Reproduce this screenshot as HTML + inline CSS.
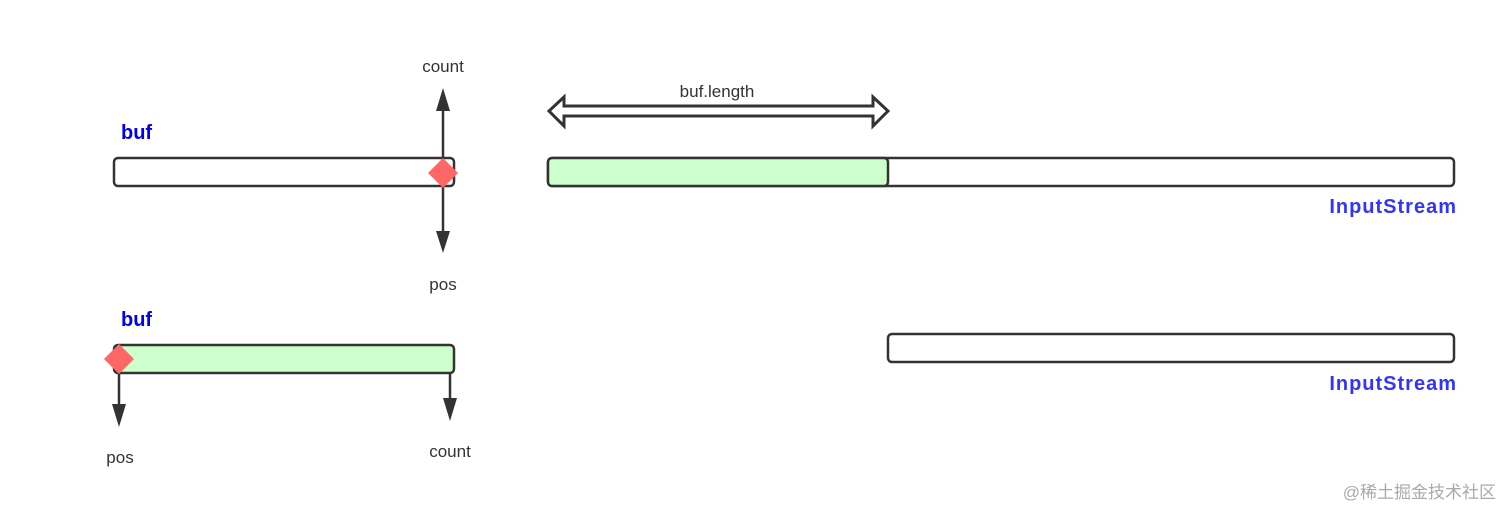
<!DOCTYPE html>
<html><head><meta charset="utf-8"><style>
html,body{margin:0;padding:0;background:#fff;}
svg{display:block;}
text{font-family:"Liberation Sans","Noto Sans CJK SC",sans-serif;}
</style></head><body>
<svg width="1512" height="518" viewBox="0 0 1512 518" xmlns="http://www.w3.org/2000/svg">
<g stroke="#333" stroke-width="2.5" fill="none">
<rect x="114" y="158" width="340" height="28" rx="4" fill="#fff"/>
<rect x="548" y="158" width="906" height="28" rx="4" fill="#fff"/>
<rect x="548" y="158" width="340" height="28" rx="4" fill="#ccffcc"/>
<rect x="114" y="345" width="340" height="28" rx="4" fill="#ccffcc"/>
<rect x="888" y="334" width="566" height="28" rx="4" fill="#fff"/>
<line x1="443" y1="108" x2="443" y2="235"/>
<line x1="119" y1="359" x2="119" y2="408"/>
<line x1="450" y1="373" x2="450" y2="402"/>
<path d="M564 106 L873 106 L873 97 L888 111 L873 126 L873 116 L564 116 L564 126 L549 111 L564 97 Z" fill="#fff" stroke-width="3"/>
</g>
<g fill="#333">
<polygon points="443,88 436,111 450,111"/>
<polygon points="443,253 436,231 450,231"/>
<polygon points="119,427 112,404 126,404"/>
<polygon points="450,421 443,398 457,398"/>
</g>
<polygon points="443,158 458,173 443,188 428,173" fill="#f66"/>
<polygon points="119,344 134,359 119,374 104,359" fill="#f66"/>
<g font-size="17" fill="#333" text-anchor="middle">
<text x="443" y="72">count</text>
<text x="443" y="290">pos</text>
<text x="717" y="97">buf.length</text>
<text x="120" y="463">pos</text>
<text x="450" y="457">count</text>
</g>
<g font-size="20" font-weight="bold" fill="#0000ee">
<text x="121" y="139">buf</text>
<text x="121" y="326">buf</text>
</g>
<g font-size="20" font-weight="bold" fill="#3333ff" text-anchor="end" letter-spacing="1">
<text x="1457" y="213">InputStream</text>
<text x="1457" y="390">InputStream</text>
</g>
<text x="1496" y="498" font-size="17" fill="#aaa" text-anchor="end">@稀土掘金技术社区</text>
</svg>
</body></html>
